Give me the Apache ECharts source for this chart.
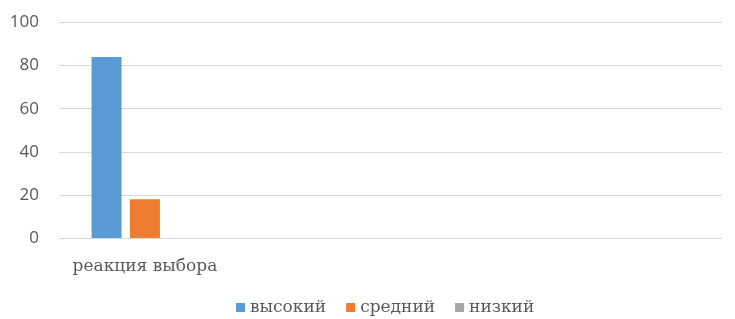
<!DOCTYPE html>
<html>
<head>
<meta charset="utf-8">
<script src="https://cdn.jsdelivr.net/npm/echarts@6/dist/echarts.min.js"></script>
<style>
 html, body { margin: 0; padding: 0; background: #fff; }
 #chart { width: 735px; height: 319px; }
</style>
</head>
<body>
<div id="chart"></div>
<script>
// categories: one labelled group, the rest of the axis is empty
const categories = ['реакция выбора', '', '', '']
const seriesNames = ['высокий', 'средний', 'низкий']
const highValues = [84, null, null, null]
const midValues = [18, null, null, null]
const lowValues = [0, null, null, null]
const yTicks = [0, 20, 40, 60, 80, 100]

const colors = ['#5B9BD5', '#ED7D31', '#A5A5A5']
const textColor = '#595959'
const serifFont = 'DejaVu Serif'

const chart = echarts.init(document.getElementById('chart'))

const makeSeries = (name, data, i) => ({
 name: name,
 type: 'bar',
 data: data,
 xAxisIndex: 1,
 yAxisIndex: 1,
 barWidth: 30,
 barGap: '28%',
 itemStyle: { color: colors[i] }
})

const valueAxis = (gridIndex, show) => ({
 type: 'value',
 gridIndex: gridIndex,
 min: yTicks[0],
 max: yTicks[yTicks.length - 1],
 interval: 20,
 axisLine: { show: false },
 axisTick: { show: false },
 axisLabel: {
  show: show,
  color: textColor,
  fontFamily: 'Open Sans',
  fontSize: 17,
  margin: 20
 },
 splitLine: { show: show, lineStyle: { color: '#D9D9D9', width: 1 } }
})

chart.setOption({
 animation: false,
 // grid 0 draws the value scale, grid 1 holds the bars (plot area is a bit narrower in the original)
 grid: [
  { left: 59, right: 13, top: 22.5, bottom: 81 },
  { left: 62.5, right: 13, top: 22.5, bottom: 81 }
 ],
 legend: {
  top: 294,
  left: 231,
  icon: 'rect',
  itemWidth: 9,
  itemHeight: 9,
  itemGap: 20,
  textStyle: { color: textColor, fontFamily: serifFont, fontSize: 17 },
  data: seriesNames
 },
 xAxis: [
  { type: 'category', gridIndex: 0, data: categories, show: false },
  {
   type: 'category',
   gridIndex: 1,
   data: categories,
   axisLine: { show: false },
   axisTick: { show: false },
   axisLabel: {
    color: textColor,
    fontFamily: serifFont,
    fontSize: 17,
    margin: 20
   }
  }
 ],
 yAxis: [valueAxis(0, true), valueAxis(1, false)],
 series: [
  makeSeries(seriesNames[0], highValues, 0),
  makeSeries(seriesNames[1], midValues, 1),
  makeSeries(seriesNames[2], lowValues, 2)
 ]
})
</script>
</body>
</html>
